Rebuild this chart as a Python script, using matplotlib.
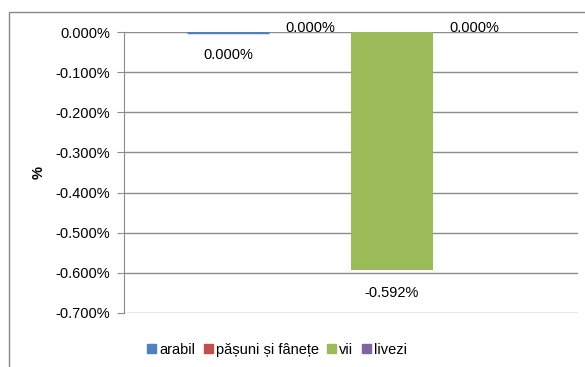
import matplotlib.pyplot as plt
import matplotlib.patches as mpatches
import numpy as np

plt.rcParams["font.family"] = ["Liberation Sans", "DejaVu Sans"]

# data (percent)
series = ["arabil", "pășuni și fânețe", "vii", "livezi"]
values = [-0.0004, 0.0, -0.592, 0.0]
colors = ["#4F81BD", "#C0504D", "#9BBB59", "#8064A2"]

W, H = 585, 367
fig = plt.figure(figsize=(W / 100, H / 100), dpi=100)

# chart border (Excel-style, cut off on right/bottom)
fig.patches.append(mpatches.Rectangle((9 / W, -0.1), 1.2, 1 - 12 / H + 0.1,
                                      transform=fig.transFigure, fill=False,
                                      edgecolor="#888888", linewidth=1.0))

ax = fig.add_axes([124 / W, 1 - 313 / H, (578 - 124) / W, (313 - 32) / H])

bw = 82 / 454
x = (np.arange(len(series)) - 1.5) * bw
for xi, v, c in zip(x, values, colors):
    # tiny non-zero bar gets a thick edge so it stays visible
    lw = 2.5 if 0 < abs(v) < 0.01 else 0
    ax.bar(xi, v, width=bw, color=c, edgecolor=c, linewidth=lw)

# value labels
for xi, v in zip(x, values):
    txt = f"{abs(v):.3f}%" if round(v, 3) == 0 else f"{v:.3f}%"
    if v < 0:
        yl = v - 0.058
    else:
        yl = 0.01
    ax.text(xi, yl, txt, ha="center", va="center", fontsize=10.5)

ax.set_xlim(-0.5, 0.5)
ax.set_ylim(-0.7, 0.0)
ticks = np.arange(0, -0.71, -0.1)
ax.set_yticks(ticks)
ax.set_yticklabels([f"{t:.3f}%" if t < -1e-9 else "0.000%" for t in ticks], fontsize=10.5)
ax.set_xticks([])
ax.yaxis.grid(True, color="#8c8c8c", linewidth=1.0)
ax.set_axisbelow(True)
for s in ["top", "right", "bottom"]:
    ax.spines[s].set_visible(False)
ax.spines["left"].set_color("#8c8c8c")
ax.tick_params(axis="y", length=5, color="#8c8c8c", pad=5)
ax.set_ylabel("%", fontsize=10.5, fontweight="bold")
ax.yaxis.set_label_coords((46 - 124) / 454, 0.5)

handles = [mpatches.Patch(color=c, label=s) for s, c in zip(series, colors)]
fig.legend(handles=handles, loc="center", bbox_to_anchor=(277 / W, 1 - 350 / H),
           ncol=4, frameon=False, fontsize=10.5, handlelength=0.6, handleheight=0.6,
           handletextpad=0.2, columnspacing=0.6)

fig.savefig("out.png", dpi=100)
